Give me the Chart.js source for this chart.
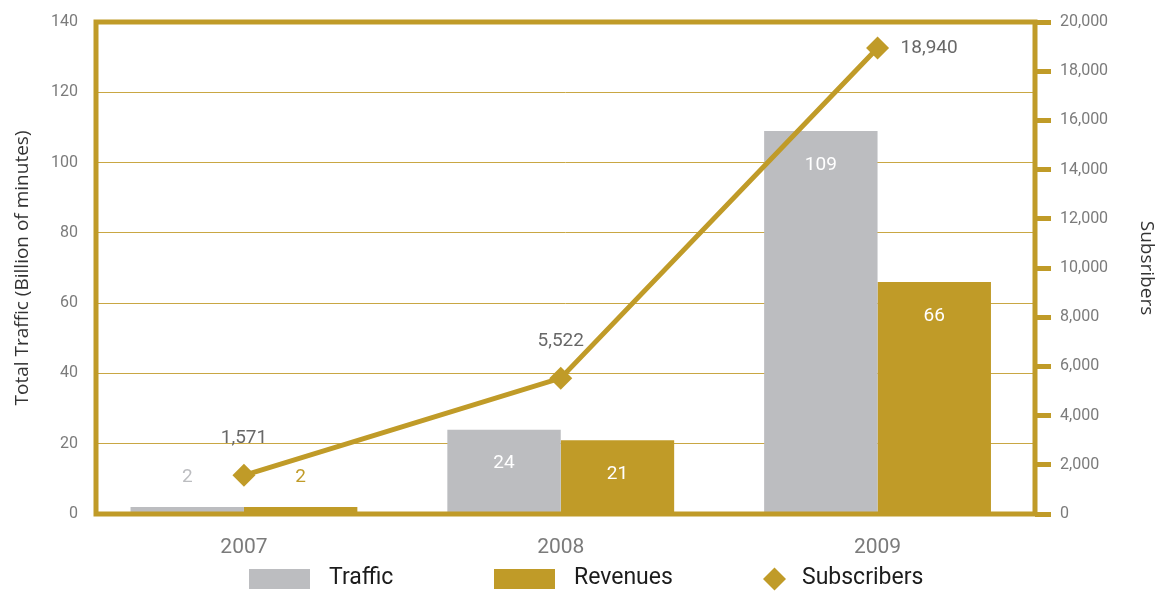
<!DOCTYPE html>
<html lang="en">
<head>
    <meta charset="UTF-8">
    <title>Traffic, Revenues and Subscribers</title>
    <script src="https://cdn.jsdelivr.net/npm/chart.js"></script>
    <style>
        body {
            margin: 0;
            padding: 0;
            background: #ffffff;
        }
        #chartBox {
            width: 1156px;
            height: 591px;
        }
    </style>
</head>
<body>

<div id="chartBox">
    <canvas id="trafficChart" width="1156" height="591"></canvas>
</div>

<script>
    // Yearly figures
    const years = ['2007', '2008', '2009'];
    const traffic = [2, 24, 109];          // billion minutes
    const revenues = [2, 21, 66];
    const subscribers = [1571, 5522, 18940];

    // Axis ranges
    const trafficAxis = { min: 0, max: 140, step: 20 };
    const subscriberAxis = { min: 0, max: 20000, step: 2000 };

    const GOLD = '#c09b28';
    const GREY = '#bcbdc0';
    const GRID = '#c9a743';
    const TICK_TEXT = '#7b7b7b';
    const NUM_FONT = 'Roboto';
    const TITLE_FONT = 'Open Sans';

    const fmt = v => v.toLocaleString('en-US');

    // Thick gold frame round the plot, painted over the bars but under the line
    const framePlugin = {
        id: 'frame',
        beforeDatasetDraw(chart, args) {
            if (args.meta.type !== 'line') return;
            const { left, right, top, bottom } = chart.chartArea;
            const ctx = chart.ctx;
            ctx.save();
            ctx.strokeStyle = GOLD;
            ctx.lineWidth = 5;
            ctx.lineCap = 'square';
            ctx.beginPath();
            ctx.moveTo(left, top);
            ctx.lineTo(right, top);
            ctx.moveTo(left, bottom);
            ctx.lineTo(right, bottom);
            ctx.moveTo(left, top);
            ctx.lineTo(left, bottom);
            ctx.moveTo(right, top);
            ctx.lineTo(right, bottom);
            ctx.stroke();
            ctx.restore();
        }
    };

    // Value labels on bars and subscriber points
    const valueLabels = {
        id: 'valueLabels',
        afterDatasetsDraw(chart) {
            const ctx = chart.ctx;
            ctx.save();
            ctx.textAlign = 'center';
            ctx.textBaseline = 'middle';
            ctx.font = '19px ' + NUM_FONT;
            chart.data.datasets.forEach((ds, di) => {
                const meta = chart.getDatasetMeta(di);
                meta.data.forEach((el, i) => {
                    const v = ds.data[i].y;
                    if (ds.type === 'line') {
                        ctx.fillStyle = '#686868';
                        if (i === ds.data.length - 1) {
                            ctx.textAlign = 'left';
                            ctx.fillText(fmt(v), el.x + 23, el.y);
                            ctx.textAlign = 'center';
                        } else {
                            ctx.fillText(fmt(v), el.x, el.y - 37);
                        }
                    } else if (el.base - el.y < 40) {
                        ctx.fillStyle = ds.backgroundColor;
                        ctx.fillText(v, el.x, el.y - 30);
                    } else {
                        ctx.fillStyle = '#ffffff';
                        ctx.fillText(v, el.x, el.y + 34);
                    }
                });
            });
            ctx.restore();
        }
    };

    // Legend row under the year labels
    const legendStarts = [249, 494, 763];
    const legendRow = {
        id: 'legendRow',
        afterDraw(chart) {
            const ctx = chart.ctx;
            const yc = 579;
            ctx.save();
            ctx.font = '23px ' + NUM_FONT;
            ctx.textBaseline = 'middle';
            ctx.textAlign = 'left';
            chart.data.datasets.forEach((ds, i) => {
                let x = legendStarts[i];
                if (ds.type === 'line') {
                    const r = 11.5;
                    ctx.fillStyle = ds.borderColor;
                    ctx.beginPath();
                    ctx.moveTo(x, yc);
                    ctx.lineTo(x + r, yc - r);
                    ctx.lineTo(x + 2 * r, yc);
                    ctx.lineTo(x + r, yc + r);
                    ctx.closePath();
                    ctx.fill();
                    x += 39;
                } else {
                    ctx.fillStyle = ds.backgroundColor;
                    ctx.fillRect(x, yc - 10, 61, 20);
                    x += 80;
                }
                ctx.fillStyle = '#1c1c1c';
                ctx.fillText(ds.label, x, yc - 1);
            });
            ctx.restore();
        }
    };

    const toPoints = arr => arr.map((v, i) => ({ x: i, y: v }));

    const ctx = document.getElementById('trafficChart').getContext('2d');
    new Chart(ctx, {
        type: 'bar',
        data: {
            datasets: [
                {
                    type: 'bar',
                    label: 'Traffic',
                    data: toPoints(traffic),
                    backgroundColor: GREY,
                    yAxisID: 'y',
                    categoryPercentage: 0.716,
                    barPercentage: 1,
                    order: 1
                },
                {
                    type: 'bar',
                    label: 'Revenues',
                    data: toPoints(revenues),
                    backgroundColor: GOLD,
                    yAxisID: 'y',
                    categoryPercentage: 0.716,
                    barPercentage: 1,
                    order: 1
                },
                {
                    type: 'line',
                    label: 'Subscribers',
                    data: toPoints(subscribers),
                    borderColor: GOLD,
                    borderWidth: 5,
                    pointStyle: 'rectRot',
                    pointRadius: 11.5,
                    pointBackgroundColor: GOLD,
                    pointBorderWidth: 0,
                    tension: 0,
                    yAxisID: 'y1',
                    order: 0
                }
            ]
        },
        options: {
            responsive: false,
            animation: false,
            devicePixelRatio: 1,
            layout: { padding: { top: 22, left: 0, right: 0, bottom: 0 } },
            plugins: {
                legend: { display: false },
                tooltip: { enabled: false }
            },
            scales: {
                x: {
                    type: 'linear',
                    offset: false,
                    min: -0.467,
                    max: 2.497,
                    afterBuildTicks: axis => {
                        axis.ticks = years.map((_, i) => ({ value: i }));
                    },
                    afterFit: scale => { scale.height = 77; },
                    grid: { display: false, offset: false },
                    border: { display: false },
                    ticks: {
                        autoSkip: false,
                        maxRotation: 0,
                        padding: 13,
                        color: TICK_TEXT,
                        font: { family: NUM_FONT, size: 21 },
                        callback: value => years[value]
                    }
                },
                y: {
                    position: 'left',
                    min: trafficAxis.min,
                    max: trafficAxis.max,
                    afterFit: scale => { scale.width = 96; },
                    // invisible tick marks keep the labels clear of the frame
                    grid: {
                        color: GRID,
                        lineWidth: 1,
                        drawTicks: true,
                        tickLength: 18,
                        tickColor: 'rgba(0,0,0,0)'
                    },
                    border: { display: false },
                    ticks: {
                        stepSize: trafficAxis.step,
                        padding: 0,
                        color: TICK_TEXT,
                        font: { family: NUM_FONT, size: 16 }
                    },
                    title: {
                        display: true,
                        text: 'Total Traffic (Billion of minutes)',
                        color: '#333333',
                        font: { family: TITLE_FONT, size: 19, lineHeight: 1 },
                        padding: { top: 13, bottom: 0 }
                    }
                },
                y1: {
                    position: 'right',
                    min: subscriberAxis.min,
                    max: subscriberAxis.max,
                    afterFit: scale => { scale.width = 121; },
                    grid: {
                        drawOnChartArea: false,
                        drawTicks: true,
                        tickLength: 16,
                        tickWidth: 5,
                        tickColor: GOLD
                    },
                    border: { display: false },
                    ticks: {
                        stepSize: subscriberAxis.step,
                        padding: 9,
                        color: TICK_TEXT,
                        font: { family: NUM_FONT, size: 16 },
                        callback: v => fmt(v)
                    },
                    title: {
                        display: true,
                        text: 'Subsribers',
                        color: '#333333',
                        font: { family: TITLE_FONT, size: 19, lineHeight: 1 },
                        padding: { top: 0, bottom: 0 }
                    }
                }
            }
        },
        plugins: [framePlugin, valueLabels, legendRow]
    });
</script>

</body>
</html>
